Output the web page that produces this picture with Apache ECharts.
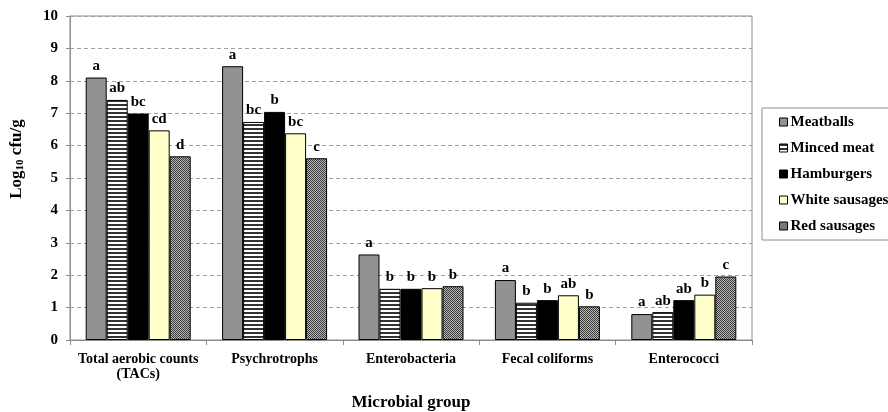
<!DOCTYPE html>
<html><head><meta charset="utf-8">
<script src="https://cdn.jsdelivr.net/npm/echarts@6/dist/echarts.min.js"></script>
<style>html,body{margin:0;padding:0;background:#fff}#c{width:888px;height:412px}</style>
</head><body><div id="c"></div>
<script>
var categories = ['Total aerobic counts\n(TACs)', 'Psychrotrophs', 'Enterobacteria', 'Fecal coliforms', 'Enterococci'];
var seriesNames = ['Meatballs', 'Minced meat', 'Hamburgers', 'White sausages', 'Red sausages'];
var meatballs = [8.10, 8.45, 2.64, 1.85, 0.80];
var mincedMeat = [7.41, 6.73, 1.58, 1.15, 0.86];
var hamburgers = [6.99, 7.04, 1.58, 1.23, 1.23];
var whiteSausages = [6.47, 6.38, 1.60, 1.38, 1.40];
var redSausages = [5.67, 5.61, 1.66, 1.04, 1.96];
var lettersMeatballs = ['a', 'a', 'a', 'a', 'a'];
var lettersMinced = ['ab', 'bc', 'b', 'b', 'ab'];
var lettersHamburgers = ['bc', 'b', 'b', 'b', 'ab'];
var lettersWhite = ['cd', 'bc', 'b', 'ab', 'b'];
var lettersRed = ['d', 'c', 'b', 'b', 'c'];
var yTicks = [0, 10, 1];

function stripes() {
  var c = document.createElement('canvas'); c.width = 4; c.height = 4;
  var x = c.getContext('2d');
  x.fillStyle = '#ffffff'; x.fillRect(0, 0, 4, 4);
  x.fillStyle = '#333333'; x.fillRect(0, 0, 4, 2);
  return c;
}
function checker() {
  var c = document.createElement('canvas'); c.width = 2; c.height = 2;
  var x = c.getContext('2d');
  x.fillStyle = '#b8b8b8'; x.fillRect(0, 0, 2, 2);
  x.fillStyle = '#3a3a3a'; x.fillRect(0, 0, 1, 1); x.fillRect(1, 1, 1, 1);
  return c;
}
var fills = ['#929292', {image: stripes(), repeat: 'repeat'}, '#000000', '#ffffcc', {image: checker(), repeat: 'repeat'}];
var datas = [meatballs, mincedMeat, hamburgers, whiteSausages, redSausages];
var letters = [lettersMeatballs, lettersMinced, lettersHamburgers, lettersWhite, lettersRed];
var FONT = '"Liberation Serif", "Times New Roman", serif';

var series = seriesNames.map(function (n, i) {
  return {
    name: n, type: 'bar', data: datas[i], barWidth: 21, barGap: '0%',
    itemStyle: {color: fills[i], borderColor: '#000', borderWidth: 1},
    label: {show: true, position: 'top', distance: 4, fontFamily: FONT, fontWeight: 'bold', fontSize: 15, color: '#000',
      formatter: (function (L) { return function (p) { return L[p.dataIndex]; }; })(letters[i])},
    emphasis: {disabled: true}
  };
});

var chart = echarts.init(document.getElementById('c'));
chart.setOption({
  animation: false,
  grid: {left: 70, right: 136, top: 16, bottom: 72, containLabel: false, outerBoundsMode: 'none',
    show: true, borderColor: '#8c8c8c', borderWidth: 1, backgroundColor: 'transparent'},
  legend: {
    orient: 'vertical', left: 762, top: 108, data: seriesNames,
    icon: 'rect', itemWidth: 8, itemHeight: 8, itemGap: 10,
    borderColor: '#8c8c8c', borderWidth: 1, padding: [6, 60, 6, 17],
    itemStyle: {borderColor: '#000', borderWidth: 1},
    textStyle: {fontFamily: FONT, fontWeight: 'bold', fontSize: 15, color: '#000', lineHeight: 16, padding: [0, 0, 0, -2]}
  },
  xAxis: {
    type: 'category', data: categories,
    axisLine: {lineStyle: {color: '#8c8c8c'}},
    axisTick: {show: true, length: 5, lineStyle: {color: '#8c8c8c'}},
    axisLabel: {fontFamily: FONT, fontWeight: 'bold', fontSize: 14, color: '#000', margin: 12, lineHeight: 15, interval: 0},
    name: 'Microbial group', nameLocation: 'middle', nameGap: 54,
    nameTextStyle: {fontFamily: FONT, fontWeight: 'bold', fontSize: 17, color: '#000'}
  },
  yAxis: {
    type: 'value', min: yTicks[0], max: yTicks[1], interval: yTicks[2],
    axisLine: {show: true, lineStyle: {color: '#8c8c8c'}},
    axisTick: {show: true, length: 4, lineStyle: {color: '#8c8c8c'}},
    axisLabel: {fontFamily: FONT, fontWeight: 'bold', fontSize: 15, color: '#000', margin: 12},
    splitLine: {lineStyle: {color: '#a0a0a0', type: [4, 3]}},
    name: 'Log{sub|10} cfu/g', nameLocation: 'middle', nameGap: 44,
    nameTextStyle: {fontFamily: FONT, fontWeight: 'bold', fontSize: 17, color: '#000', padding: [0, 0, 0, 38],
      rich: {sub: {fontFamily: FONT, fontWeight: 'bold', fontSize: 11, color: '#000', verticalAlign: 'bottom', padding: [8, 0, 0, 0]}}}
  },
  series: series
});
</script></body></html>
